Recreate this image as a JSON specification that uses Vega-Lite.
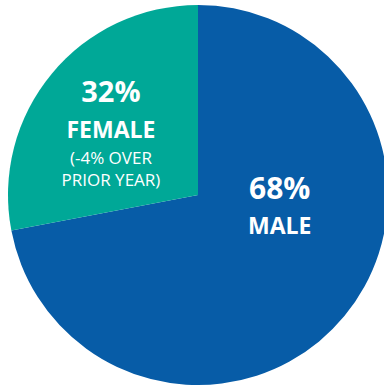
{
  "$schema": "https://vega.github.io/schema/vega-lite/v6.json",
  "autosize": {"type": "fit", "contains": "padding"},
  "width": 384,
  "height": 387,
  "padding": {"left": 12, "top": 3, "right": 0, "bottom": 0},
  "background": "white",
  "view": {"stroke": null},
  "config": {"text": {"font": "Open Sans", "color": "white", "align": "center", "baseline": "middle"}},
  "data": {"values": [
    {"gender": "Male", "share": 72, "pct": "68%", "label": "MALE", "note": ""},
    {"gender": "Female", "share": 28, "pct": "32%", "label": "FEMALE", "note": "(-4% OVER\nPRIOR YEAR)"}
  ]},
  "encoding": {
    "theta": {"field": "share", "type": "quantitative", "stack": true},
    "order": {"field": "share", "type": "quantitative", "sort": "descending"}
  },
  "layer": [
    {
      "mark": {"type": "arc", "outerRadius": 190},
      "encoding": {
        "color": {"field": "gender", "type": "nominal", "scale": {"domain": ["Male", "Female"], "range": ["#075CA7", "#00A897"]}, "legend": null}
      }
    },
    {
      "mark": {"type": "text", "radius": 113, "dy": -30, "fontSize": 29, "fontWeight": "bold"},
      "encoding": {"text": {"condition": {"test": "datum.gender === 'Female'", "field": "pct"}, "value": ""}}
    },
    {
      "mark": {"type": "text", "radius": 113, "dy": 8, "fontSize": 23, "fontWeight": "bold"},
      "encoding": {"text": {"condition": {"test": "datum.gender === 'Female'", "field": "label"}, "value": ""}}
    },
    {
      "mark": {"type": "text", "radius": 113, "dy": 36, "fontSize": 17, "baseline": "middle", "lineBreak": "\n", "lineHeight": 22},
      "encoding": {"text": {"condition": {"test": "datum.gender === 'Female'", "field": "note"}, "value": ""}}
    },
    {
      "mark": {"type": "text", "radius": 106, "dy": -73, "fontSize": 30, "fontWeight": "bold"},
      "encoding": {"text": {"condition": {"test": "datum.gender === 'Male'", "field": "pct"}, "value": ""}}
    },
    {
      "mark": {"type": "text", "radius": 106, "dy": -36, "fontSize": 23, "fontWeight": "bold"},
      "encoding": {"text": {"condition": {"test": "datum.gender === 'Male'", "field": "label"}, "value": ""}}
    }
  ]
}
